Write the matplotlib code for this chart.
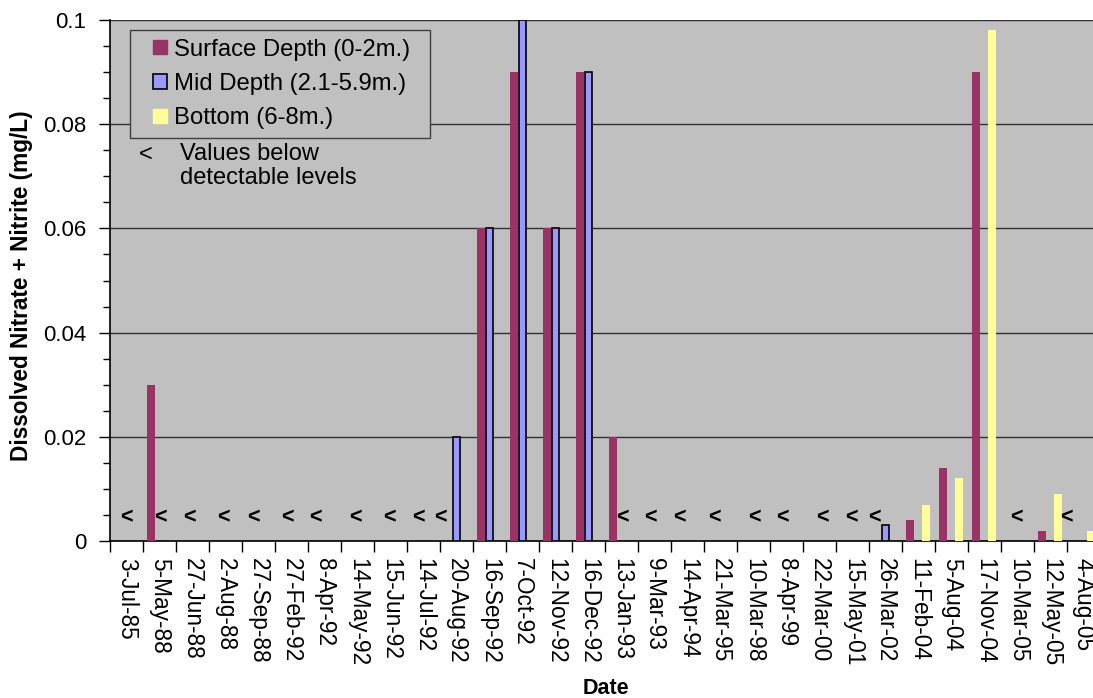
import numpy as np
import matplotlib.pyplot as plt
import matplotlib.patches as patches
from matplotlib.legend_handler import HandlerPatch
from matplotlib.ticker import FixedLocator, MultipleLocator, FuncFormatter

plt.rcParams['font.family'] = ['Liberation Sans', 'DejaVu Sans']

dates = ['3-Jul-85', '5-May-88', '27-Jun-88', '2-Aug-88', '27-Sep-88', '27-Feb-92',
         '8-Apr-92', '14-May-92', '15-Jun-92', '14-Jul-92', '20-Aug-92', '16-Sep-92',
         '7-Oct-92', '12-Nov-92', '16-Dec-92', '13-Jan-93', '9-Mar-93', '14-Apr-94',
         '21-Mar-95', '10-Mar-98', '8-Apr-99', '22-Mar-00', '15-May-01', '26-Mar-02',
         '11-Feb-04', '5-Aug-04', '17-Nov-04', '10-Mar-05', '12-May-05', '4-Aug-05']

nan = np.nan
surface = [nan, 0.03, nan, nan, nan, nan, nan, nan, nan, nan, nan, 0.06,
           0.09, 0.06, 0.09, 0.02, nan, nan, nan, nan, nan, nan, nan, nan,
           0.004, 0.014, 0.09, nan, 0.002, nan]
mid = [nan, nan, nan, nan, nan, nan, nan, nan, nan, nan, 0.02, 0.06,
       0.1, 0.06, 0.09, nan, nan, nan, nan, nan, nan, nan, nan, 0.003,
       nan, nan, nan, nan, nan, nan]
bottom = [nan, nan, nan, nan, nan, nan, nan, nan, nan, nan, nan, nan,
          nan, nan, nan, nan, nan, nan, nan, nan, nan, nan, nan, nan,
          0.007, 0.012, 0.098, nan, 0.009, 0.002]

# dates carrying a "<" (below detection) note, with a small hand nudge
bdl_dates = ['3-Jul-85', '5-May-88', '27-Jun-88', '2-Aug-88', '27-Sep-88', '27-Feb-92',
             '8-Apr-92', '14-May-92', '15-Jun-92', '14-Jul-92', '20-Aug-92', '13-Jan-93',
             '9-Mar-93', '14-Apr-94', '21-Mar-95', '10-Mar-98', '8-Apr-99', '22-Mar-00',
             '15-May-01', '26-Mar-02', '10-Mar-05', '4-Aug-05']
bdl_nudge = [0.0, 0.04, -0.10, -0.06, -0.17, -0.14, -0.28, -0.07, -0.02, -0.16, -0.48,
             0.03, -0.12, -0.24, -0.20, 0.02, -0.11, 0.10, -0.04, -0.34, -0.04, -0.52]
bdl_level = 0.0044

c_surf = '#993366'
c_mid = '#9999FF'
c_bot = '#FFFF99'
bg = '#C0C0C0'


def square_handle(legend, orig_handle, xdescent, ydescent, width, height, fontsize):
    # small square pushed to the right end of the handle box, Excel style
    s = 0.6 * fontsize
    return patches.Rectangle((width - s - xdescent, (height - s) / 2 - ydescent), s, s)


W, H = 1093, 698
fig = plt.figure(figsize=(W / 100, H / 100), dpi=100)
ax = fig.add_axes([110 / W, 1 - 541 / H, 990 / W, 521 / H])
ax.set_facecolor(bg)

x = np.arange(len(dates))
bw = 0.24
ax.bar(x - 0.245, surface, bw, color=c_surf, zorder=3)
ax.bar(x, mid, bw, color=c_mid, edgecolor='black', linewidth=1.2, zorder=3)
ax.bar(x + 0.215, bottom, bw, color=c_bot, zorder=3)

for d, n in zip(bdl_dates, bdl_nudge):
    ax.text(dates.index(d) + n, bdl_level, '<', ha='center', va='center',
            fontsize=15.5, fontweight='bold', zorder=4)

ax.set_xlim(-0.5, len(dates) - 0.5)
ax.set_ylim(0, 0.1)

ax.yaxis.set_major_locator(MultipleLocator(0.02))
ax.yaxis.set_minor_locator(MultipleLocator(0.005))
ax.yaxis.set_major_formatter(FuncFormatter(lambda v, p: '%g' % round(v, 3)))
ax.grid(axis='y', which='major', color='#303030', linewidth=1, zorder=1)

ax.xaxis.set_major_locator(FixedLocator(np.arange(len(dates) + 1) - 0.5))
ax.xaxis.set_major_formatter(FuncFormatter(lambda v, p: ''))
ax.xaxis.set_minor_locator(FixedLocator(x))
ax.set_xticklabels(dates, minor=True, rotation=-90, fontsize=16.3, va='top', ha='center')
ax.tick_params(axis='x', which='major', length=8, width=1, direction='out')
ax.tick_params(axis='x', which='minor', length=0, pad=12)
ax.tick_params(axis='y', which='major', length=8, width=1, direction='out', labelsize=16, pad=9)
ax.tick_params(axis='y', which='minor', length=5, width=1, direction='out')

for s in ['top', 'right']:
    ax.spines[s].set_visible(False)
for s in ['left', 'bottom']:
    ax.spines[s].set_color('black')
    ax.spines[s].set_linewidth(1.2)

fig.text(22 / W, 1 - 286 / H, 'Dissolved Nitrate + Nitrite (mg/L)', rotation=90,
         ha='center', va='center', fontsize=16.3, fontweight='bold')
fig.text(606 / W, 1 - 688 / H, 'Date', ha='center', va='center',
         fontsize=15.5, fontweight='bold')

handles = [patches.Patch(facecolor=c_surf, edgecolor=c_surf),
           patches.Patch(facecolor=c_mid, edgecolor='black', linewidth=1.2),
           patches.Patch(facecolor=c_bot, edgecolor=c_bot)]
labels = ['Surface Depth (0-2m.)', 'Mid Depth (2.1-5.9m.)', 'Bottom (6-8m.)']
leg = fig.legend(handles, labels, loc='upper left',
                 bbox_to_anchor=(130 / W, 1 - 131 / H, 300 / W, 101 / H), mode='expand',
                 borderaxespad=0, fontsize=17.2, handlelength=1.2, handleheight=0.6,
                 handletextpad=0.3, labelspacing=0.52, borderpad=0.36,
                 fancybox=False, facecolor=bg, edgecolor='#404040', framealpha=1,
                 handler_map={patches.Patch: HandlerPatch(patch_func=square_handle)})
leg.get_frame().set_linewidth(1)

fig.text(146 / W, 1 - 155 / H, '<', ha='center', va='center', fontsize=17)
fig.text(180 / W, 1 - 166 / H, 'Values below\ndetectable levels', ha='left', va='center',
         fontsize=17, linespacing=1.15)

fig.savefig('out.png', dpi=100)
